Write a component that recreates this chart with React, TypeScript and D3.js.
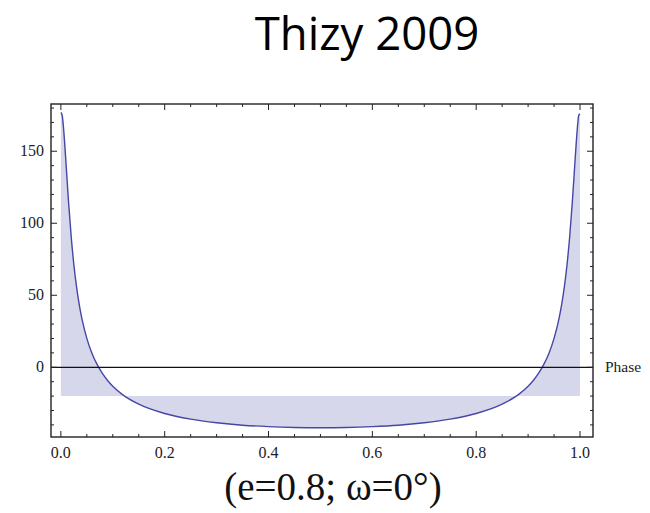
import React from 'react';
import * as d3 from 'd3';

// orbital phase and radial velocity (e=0.8, w=0)
const phase = [
  0, 0.0025, 0.005, 0.0075, 0.01, 0.015, 0.02, 0.025, 0.03, 0.035, 0.04, 0.05,
  0.06, 0.07, 0.08, 0.09, 0.1, 0.12, 0.15, 0.2, 0.25, 0.3, 0.35, 0.4, 0.45, 0.5,
  0.55, 0.6, 0.65, 0.7, 0.75, 0.8, 0.85, 0.88, 0.9, 0.91, 0.92, 0.93, 0.94, 0.95,
  0.96, 0.965, 0.97, 0.975, 0.98, 0.985, 0.99, 0.9925, 0.995, 0.9975, 1,
];
const velocity = [
  177, 175, 166.7, 154.8, 141.1, 113.8, 90.3, 71.3, 56.4, 44.4, 34.7, 20.1,
  9.6, 1.8, -4.3, -9.2, -13.2, -19.3, -25.6, -32.1, -36.0, -38.5, -40.2, -41.2, -41.8, -42,
  -41.8, -41.2, -40.2, -38.5, -36.0, -32.1, -25.6, -19.3, -13.2, -9.2, -4.3, 1.8, 9.6, 20.1,
  34.7, 44.4, 56.4, 71.3, 90.3, 113.8, 141.1, 154.8, 166.7, 175, 176,
];
const gamma = -20; // systemic velocity, base of the shading

const xMajor = [0, 0.2, 0.4, 0.6, 0.8, 1.0];
const xMinor = d3.range(0, 1.0001, 0.05);
const yMajor = [0, 50, 100, 150];
const yMinor = d3.range(-40, 181, 10);

const W = 650;
const H = 513;

export default function App() {
  const x = d3.scaleLinear().domain([-0.019, 1.025]).range([51, 593]);
  const y = d3.scaleLinear().domain([-48.4, 182.8]).range([437, 104]);
  const [x0, x1] = x.range();
  const [yb, yt] = y.range();

  const pts: [number, number][] = phase.map((p, i) => [p, velocity[i]]);
  const line = d3.line<[number, number]>()
    .x(d => x(d[0]))
    .y(d => y(d[1]))
    .curve(d3.curveMonotoneX);
  const area = d3.area<[number, number]>()
    .x(d => x(d[0]))
    .y0(y(gamma))
    .y1(d => y(d[1]))
    .curve(d3.curveMonotoneX);

  const tickFont = { fontFamily: '"Liberation Serif", "DejaVu Serif", serif', fontSize: 16, fill: '#222' };

  return (
    <svg width={W} height={H} style={{ position: 'absolute', left: 0, top: 0, background: '#fff' }}>
      <text x={367} y={50} textAnchor="middle"
        style={{ fontFamily: '"Open Sans", sans-serif', fontSize: 45.5, fill: '#000' }}>
        Thizy 2009
      </text>

      <path d={area(pts) || ''} fill="#d7d7ec" />
      <path d={line(pts) || ''} fill="none" stroke="#4646a6" strokeWidth={1.4} />
      <line x1={x0} x2={x1} y1={y(0)} y2={y(0)} stroke="#111" strokeWidth={1.3} />

      {/* frame ticks, pointing inward on all four sides */}
      {xMinor.map(v => {
        const major = xMajor.some(m => Math.abs(m - v) < 1e-6);
        const len = major ? 6 : 3;
        return (
          <g key={'xt' + v} stroke="#222" strokeWidth={1}>
            <line x1={x(v)} x2={x(v)} y1={yb} y2={yb - len} />
            <line x1={x(v)} x2={x(v)} y1={yt} y2={yt + len} />
          </g>
        );
      })}
      {yMinor.map(v => {
        const major = yMajor.includes(v);
        const len = major ? 6 : 3;
        return (
          <g key={'yt' + v} stroke="#222" strokeWidth={1}>
            <line x1={x0} x2={x0 + len} y1={y(v)} y2={y(v)} />
            <line x1={x1} x2={x1 - len} y1={y(v)} y2={y(v)} />
          </g>
        );
      })}
      <rect x={x0} y={yt} width={x1 - x0} height={yb - yt} fill="none" stroke="#222" strokeWidth={1.4} />

      {xMajor.map(v => (
        <text key={'xl' + v} x={x(v)} y={yb + 21} textAnchor="middle" style={tickFont}>
          {v.toFixed(1)}
        </text>
      ))}
      {yMajor.map(v => (
        <text key={'yl' + v} x={x0 - 7} y={y(v) + 5} textAnchor="end" style={tickFont}>
          {v}
        </text>
      ))}

      <text x={605} y={y(0) + 5} style={{ ...tickFont, fontSize: 15.5 }}>Phase</text>

      <text x={333} y={500} textAnchor="middle"
        style={{ fontFamily: '"Liberation Serif", "DejaVu Serif", serif', fontSize: 39, fill: '#111' }}>
        (e=0.8; ω=0°)
      </text>
    </svg>
  );
}
